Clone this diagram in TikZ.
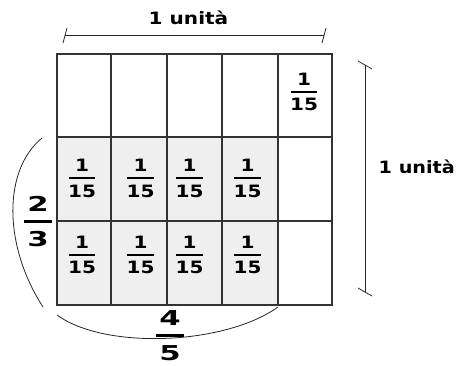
\documentclass[tikz,border=0pt]{standalone}
\usepackage{graphicx}
\usepackage{fontspec}
\setmainfont{DejaVu Sans}
\definecolor{cellgray}{RGB}{239,239,239}
\definecolor{linegray}{RGB}{51,51,51}
\newcommand{\wide}[1]{\scalebox{1.18}[1]{#1}}
\newcommand{\xwide}[1]{\scalebox{1.5}[1]{#1}}
\newcommand{\smfr}[2]{\vbox{\offinterlineskip\halign{\hfil##\hfil\cr
  \wide{#1}\cr\noalign{\kern5.5pt}
  \rule{26.5pt}{2.2pt}\cr\noalign{\kern5.5pt}
  \wide{#2}\cr}}}
\newcommand{\bgfr}[2]{\vbox{\offinterlineskip\halign{\hfil##\hfil\cr
  \xwide{#1}\cr\noalign{\kern8.5pt}
  \rule{28pt}{2.8pt}\cr\noalign{\kern8.5pt}
  \xwide{#2}\cr}}}
\tikzset{
  gridline/.style={draw=linegray,line width=1.2pt},
  dimline/.style={draw=black!85,line width=0.9pt},
  tickline/.style={draw=black!85,line width=0.8pt},
  arcline/.style={draw=black!85,line width=0.8pt},
  small/.style={inner sep=0pt,font=\fontsize{17}{20}\selectfont\bfseries},
  big/.style={inner sep=0pt,font=\fontsize{20.5}{24}\selectfont\bfseries},
}
\begin{document}
\begin{tikzpicture}[x=1pt,y=-1pt]
\useasboundingbox (0,0) rectangle (456,365);
% shaded cells
\fill[cellgray] (57,137) rectangle (278,305);
% grid
\draw[gridline] (57,54) rectangle (332,305);
\foreach \xx in {111,167,222,278} \draw[gridline] (\xx,54) -- (\xx,305);
\foreach \yy in {137,221} \draw[gridline] (57,\yy) -- (332,\yy);
% fractions in cells
\node[small] (f0) at (304,92) {\smfr{1}{15}};
\node[small] (a1) at (82,178.5) {\smfr{1}{15}};
\node[small] (a2) at (140.5,178.5) {\smfr{1}{15}};
\node[small] (a3) at (189.5,178.5) {\smfr{1}{15}};
\node[small] (a4) at (247.5,178.5) {\smfr{1}{15}};
\node[small] (b1) at (82,255) {\smfr{1}{15}};
\node[small] (b2) at (140.5,255) {\smfr{1}{15}};
\node[small] (b3) at (189.5,255) {\smfr{1}{15}};
\node[small] (b4) at (247.5,255) {\smfr{1}{15}};
% top dimension
\coordinate (tl) at (65,35);
\coordinate (tr) at (324,35);
\draw[dimline] (tl) -- (tr);
\draw[tickline] ([shift={(-2,8)}]tl) -- ([shift={(2,-7)}]tl);
\draw[tickline] ([shift={(-2,8)}]tr) -- ([shift={(2,-7)}]tr);
\node[small,anchor=base] (ttop) at (188.5,24) {\wide{1 unità}};
% right dimension
\coordinate (rt) at (365,65);
\coordinate (rb) at (365,292);
\draw[dimline] (rt) -- (rb);
\draw[tickline] ([shift={(-7,-4)}]rt) -- ([shift={(7,4)}]rt);
\draw[tickline] ([shift={(-7,-4)}]rb) -- ([shift={(7,4)}]rb);
\node[small,anchor=base west] (tright) at (378.5,173) {\scalebox{1.13}[1]{1 unità}};
% left arc 2/3
\coordinate (la) at (42,138);
\coordinate (lb) at (43,307);
\draw[arcline] (la) .. controls (3,170) and (3,245) .. (lb);
\node[big] (twothirds) at (38,222) {\bgfr{2}{3}};
% bottom arc 4/5
\coordinate (ba) at (57,315);
\coordinate (bb) at (278,307);
\draw[arcline] (ba) .. controls (105,350) and (225,345) .. (bb);
\node[big] (fourfifths) at (170,336) {\bgfr{4}{5}};
\end{tikzpicture}
\end{document}
